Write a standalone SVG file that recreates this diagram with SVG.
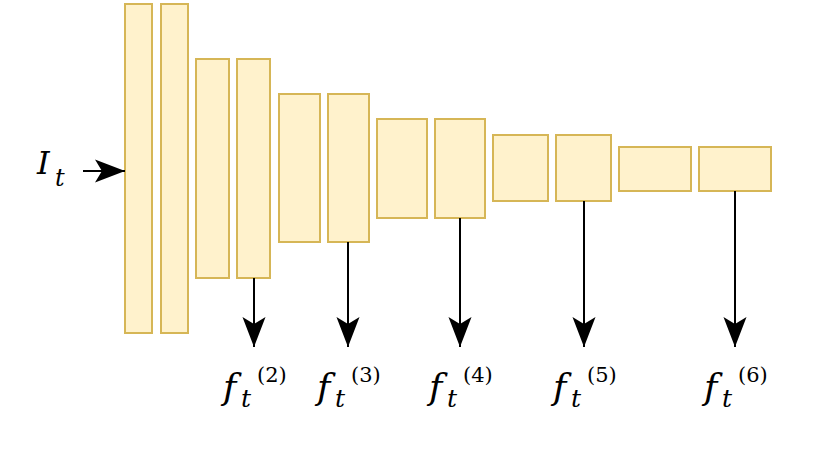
<svg xmlns="http://www.w3.org/2000/svg" width="830" height="452" viewBox="0 0 830 452">
<defs>
<style>
.b{fill:#fff2cc;stroke:#d6b656;stroke-width:2}
.c{stroke:#000;stroke-width:2;fill:none}
.m{font-family:"DejaVu Serif",serif;font-style:italic;fill:#000}
.n{font-family:"DejaVu Serif",serif;fill:#000}
</style>
<marker id="ah" markerUnits="userSpaceOnUse" markerWidth="30" markerHeight="30" viewBox="0 0 26 20" refX="26" refY="10" orient="auto">
<path d="M0,0 L26,10 L0,20 L6,10 Z" fill="#000"/>
</marker>
</defs>
<g id="blocks">
<g id="b1"><rect class="b" x="125" y="4" width="27" height="329"/></g>
<g id="b2"><rect class="b" x="161" y="4" width="27" height="329"/></g>
<g id="b3"><rect class="b" x="196" y="59" width="33" height="219"/></g>
<g id="b4"><rect class="b" x="237" y="59" width="33" height="219"/></g>
<g id="b5"><rect class="b" x="279" y="94" width="41" height="148"/></g>
<g id="b6"><rect class="b" x="328" y="94" width="41" height="148"/></g>
<g id="b7"><rect class="b" x="377" y="119" width="50" height="99"/></g>
<g id="b8"><rect class="b" x="435" y="119" width="50" height="99"/></g>
<g id="b9"><rect class="b" x="493" y="135" width="55" height="66"/></g>
<g id="b10"><rect class="b" x="556" y="135" width="55" height="66"/></g>
<g id="b11"><rect class="b" x="619" y="147" width="72" height="44"/></g>
<g id="b12"><rect class="b" x="699" y="147" width="72" height="44"/></g>
</g>
<g id="connectors">
<line class="c" x1="83" y1="171" x2="125" y2="171" marker-end="url(#ah)"/>
<line class="c" x1="254" y1="278" x2="254" y2="347" marker-end="url(#ah)"/>
<line class="c" x1="348" y1="242" x2="348" y2="347" marker-end="url(#ah)"/>
<line class="c" x1="460" y1="218" x2="460" y2="347" marker-end="url(#ah)"/>
<line class="c" x1="584" y1="201" x2="584" y2="347" marker-end="url(#ah)"/>
<line class="c" x1="735" y1="191" x2="735" y2="347" marker-end="url(#ah)"/>
</g>
<g id="label-It">
<text class="m" x="37" y="174" font-size="32">I</text>
<text class="m" x="55" y="186" font-size="24">t</text>
</g>
<g id="label-f2" transform="translate(225,0)">
<text class="m" x="-2" y="399" font-size="36">f</text>
<text class="m" x="16" y="407" font-size="25">t</text>
<text class="n" x="32" y="382" font-size="21">(2)</text>
</g>
<g id="label-f3" transform="translate(319,0)">
<text class="m" x="-2" y="399" font-size="36">f</text>
<text class="m" x="16" y="407" font-size="25">t</text>
<text class="n" x="32" y="382" font-size="21">(3)</text>
</g>
<g id="label-f4" transform="translate(431,0)">
<text class="m" x="-2" y="399" font-size="36">f</text>
<text class="m" x="16" y="407" font-size="25">t</text>
<text class="n" x="32" y="382" font-size="21">(4)</text>
</g>
<g id="label-f5" transform="translate(555,0)">
<text class="m" x="-2" y="399" font-size="36">f</text>
<text class="m" x="16" y="407" font-size="25">t</text>
<text class="n" x="32" y="382" font-size="21">(5)</text>
</g>
<g id="label-f6" transform="translate(706,0)">
<text class="m" x="-2" y="399" font-size="36">f</text>
<text class="m" x="16" y="407" font-size="25">t</text>
<text class="n" x="32" y="382" font-size="21">(6)</text>
</g>
</svg>
